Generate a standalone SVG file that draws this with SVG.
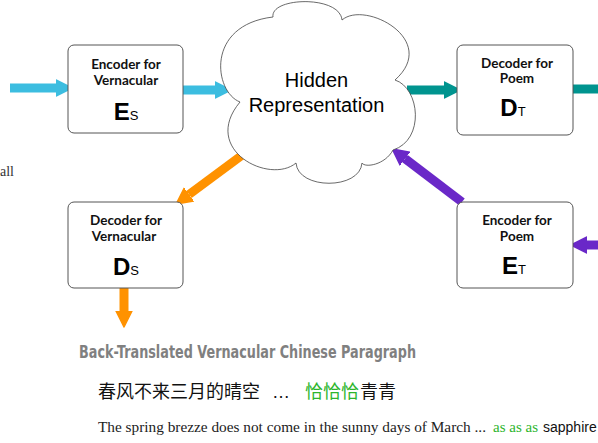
<svg xmlns="http://www.w3.org/2000/svg" width="598" height="443" viewBox="0 0 598 443">
<style>
.box{fill:#fff;stroke:#555;stroke-width:1}
.lbl{font-family:Lato,"Open Sans",sans-serif;font-weight:bold;font-size:13.5px;fill:#111;text-anchor:middle}
.big{font-family:"Liberation Sans",Arial,sans-serif;fill:#000;text-anchor:middle}
.big .m{font-size:24px;font-weight:bold}
.big .s{font-size:13px}
.sh{fill:none;stroke-width:9}
.cy{stroke:#3CBDE0}.tl{stroke:#00948F}.or{stroke:#FF9200}.pu{stroke:#6A28C8}
</style>
<defs>
<marker id="hc" markerUnits="userSpaceOnUse" viewBox="0 -9 17 18" refX="0" refY="0" markerWidth="17" markerHeight="18" orient="auto"><path d="M0,-8 L16,0 L0,8 Z" fill="#3CBDE0" stroke="#3CBDE0" stroke-width="1.5" stroke-linejoin="round"/></marker>
<marker id="ht" markerUnits="userSpaceOnUse" viewBox="0 -9 17 18" refX="0" refY="0" markerWidth="17" markerHeight="18" orient="auto"><path d="M0,-8 L16,0 L0,8 Z" fill="#00948F" stroke="#00948F" stroke-width="1.5" stroke-linejoin="round"/></marker>
<marker id="ho" markerUnits="userSpaceOnUse" viewBox="0 -9 17 18" refX="0" refY="0" markerWidth="17" markerHeight="18" orient="auto"><path d="M0,-8 L16,0 L0,8 Z" fill="#FF9200" stroke="#FF9200" stroke-width="1.5" stroke-linejoin="round"/></marker>
<marker id="hp" markerUnits="userSpaceOnUse" viewBox="0 -9 17 18" refX="0" refY="0" markerWidth="17" markerHeight="18" orient="auto"><path d="M0,-8 L16,0 L0,8 Z" fill="#6A28C8" stroke="#6A28C8" stroke-width="1.5" stroke-linejoin="round"/></marker>
</defs>
<rect width="598" height="443" fill="#fff"/>
<g id="connectors">
<line class="sh cy" x1="10" y1="88" x2="56" y2="88" marker-end="url(#hc)"/>
<line class="sh cy" x1="180" y1="90" x2="215" y2="90" marker-end="url(#hc)"/>
<line class="sh tl" x1="407" y1="90" x2="444" y2="90" marker-end="url(#ht)"/>
<line class="sh tl" x1="573" y1="89" x2="598" y2="89"/>
<line class="sh or" x1="245" y1="153" x2="189" y2="194.5" marker-end="url(#ho)"/>
<line class="sh or" x1="124" y1="288" x2="124" y2="311" marker-end="url(#ho)"/>
<line class="sh pu" x1="462" y1="202" x2="405" y2="158.7" marker-end="url(#hp)"/>
<line class="sh pu" x1="600" y1="245" x2="587" y2="245" marker-end="url(#hp)"/>
</g>
<g id="hidden">
<path d="M240,102 C214,92 205,25 273,17 C270,-3 340,-5 342,20 C365,0 440,40 395,80 C420,88 425,140 393,150 C385,165 365,168 362,163 C360,190 298,190 296,163 C270,185 200,150 240,102 Z" fill="#fff" stroke="#444" stroke-width="0.8"/>
<text x="316.5" y="87" font-family="Liberation Sans,Arial,sans-serif" font-size="20" text-anchor="middle" fill="#000">Hidden</text>
<text x="316.5" y="112" font-family="Liberation Sans,Arial,sans-serif" font-size="20" text-anchor="middle" fill="#000">Representation</text>
</g>
<g id="enc-vern">
<rect class="box" x="68" y="45" width="115" height="88" rx="6"/>
<text class="lbl" x="126" y="69">Encoder for</text>
<text class="lbl" x="126" y="85">Vernacular</text>
<text class="big" x="126" y="120"><tspan class="m">E</tspan><tspan class="s">S</tspan></text>
</g>
<g id="dec-poem">
<rect class="box" x="457" y="45" width="116" height="90" rx="6"/>
<text class="lbl" x="517" y="68">Decoder for</text>
<text class="lbl" x="517" y="83">Poem</text>
<text class="big" x="513" y="116"><tspan class="m">D</tspan><tspan class="s">T</tspan></text>
</g>
<g id="dec-vern">
<rect class="box" x="68" y="202" width="115" height="86" rx="6"/>
<text class="lbl" x="126" y="225">Decoder for</text>
<text class="lbl" x="124" y="241">Vernacular</text>
<text class="big" x="126" y="275"><tspan class="m">D</tspan><tspan class="s">S</tspan></text>
</g>
<g id="enc-poem">
<rect class="box" x="457" y="202" width="116" height="86" rx="6"/>
<text class="lbl" x="517" y="225">Encoder for</text>
<text class="lbl" x="517" y="241">Poem</text>
<text class="big" x="514" y="274"><tspan class="m">E</tspan><tspan class="s">T</tspan></text>
</g>
<text x="0" y="176" font-family="Liberation Serif,serif" font-size="14" fill="#333">all</text>
<text x="79" y="358" font-family="DejaVu Sans,sans-serif" font-weight="bold" font-size="17" fill="#808080" textLength="337" lengthAdjust="spacingAndGlyphs">Back-Translated Vernacular Chinese Paragraph</text>
<text y="398" font-family="Noto Sans CJK SC,sans-serif" font-size="18" fill="#111"><tspan x="98">春风不来三月的晴空</tspan><tspan x="272" font-family="Liberation Sans,sans-serif">…</tspan><tspan x="305" fill="#2DB52D">恰恰恰</tspan><tspan x="360">青青</tspan></text>
<text x="98" y="432" font-family="Liberation Serif,serif" font-size="14.5" fill="#222" textLength="388" lengthAdjust="spacingAndGlyphs">The spring brezze does not come in the sunny days of March ...</text>
<text x="493" y="432" font-family="Liberation Serif,serif" font-size="15" fill="#2DB52D">as as as</text>
<text x="543" y="432" font-family="Liberation Sans,sans-serif" font-size="14" fill="#111">sapphire</text>
</svg>
